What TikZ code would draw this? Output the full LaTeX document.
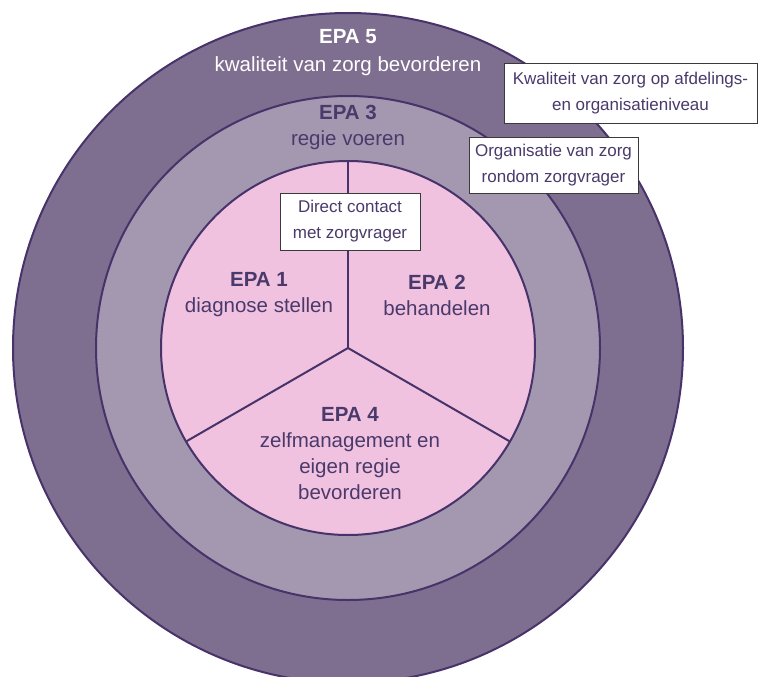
\documentclass[tikz,border=0pt]{standalone}
\usepackage{fontspec}
\setmainfont{Liberation Sans}
\definecolor{outerc}{HTML}{7E6E8F}
\definecolor{midc}{HTML}{A398B0}
\definecolor{innerc}{HTML}{F0C2E0}
\definecolor{edgec}{HTML}{47336A}
\definecolor{txtc}{HTML}{4A3A6B}
\definecolor{boxc}{HTML}{3A3A3A}
\begin{document}
\begin{tikzpicture}[x=1pt,y=-1pt,
  ring/.style={draw=edgec,line width=2pt},
  spoke/.style={draw=edgec,line width=2pt},
  epa/.style={align=center,text=txtc,inner sep=0pt,font=\fontsize{20.5}{26}\selectfont},
  epawhite/.style={epa,text=white,font=\fontsize{20.5}{28}\selectfont},
  lbox/.style={draw=boxc,fill=white,line width=1pt,align=center,text=txtc,inner sep=0pt,
    font=\fontsize{17}{26}\selectfont}]
\useasboundingbox (0,0) rectangle (758,677);
\clip (0,0) rectangle (758,677);
\fill[white] (0,0) rectangle (758,677);
\coordinate (c) at (348,348);
\draw[ring,fill=outerc] (c) circle[radius=335pt];
\draw[ring,fill=midc] (c) circle[radius=252pt];
\draw[ring,fill=innerc] (c) circle[radius=187pt];
\coordinate (top) at (348,161);
\coordinate (ll) at (186.1,441.5);
\coordinate (lr) at (509.9,441.5);
\draw[spoke] (c) -- (top);
\draw[spoke] (c) -- (ll);
\draw[spoke] (c) -- (lr);
\node[epawhite] (e5) at (348,53) {\textbf{EPA 5}\\kwaliteit van zorg bevorderen};
\node[epa] (e3) at (348,127) {\textbf{EPA 3}\\regie voeren};
\node[epa] (e1) at (259,295) {\textbf{EPA 1}\\diagnose stellen};
\node[epa] (e2) at (437,295) {\textbf{EPA 2}\\behandelen};
\node[epa] (e4) at (350,454) {\textbf{EPA 4}\\zelfmanagement en\\eigen regie\\bevorderen};
\node[lbox,minimum width=253pt,minimum height=59pt] (ba) at (630.5,93.5) {Kwaliteit van zorg op afdelings-\\en organisatieniveau};
\node[lbox,minimum width=169pt,minimum height=56pt] (bb) at (553.5,165) {Organisatie van zorg\\rondom zorgvrager};
\node[lbox,minimum width=140pt,minimum height=57pt] (bc) at (350,221.5) {Direct contact\\met zorgvrager};
\end{tikzpicture}
\end{document}
